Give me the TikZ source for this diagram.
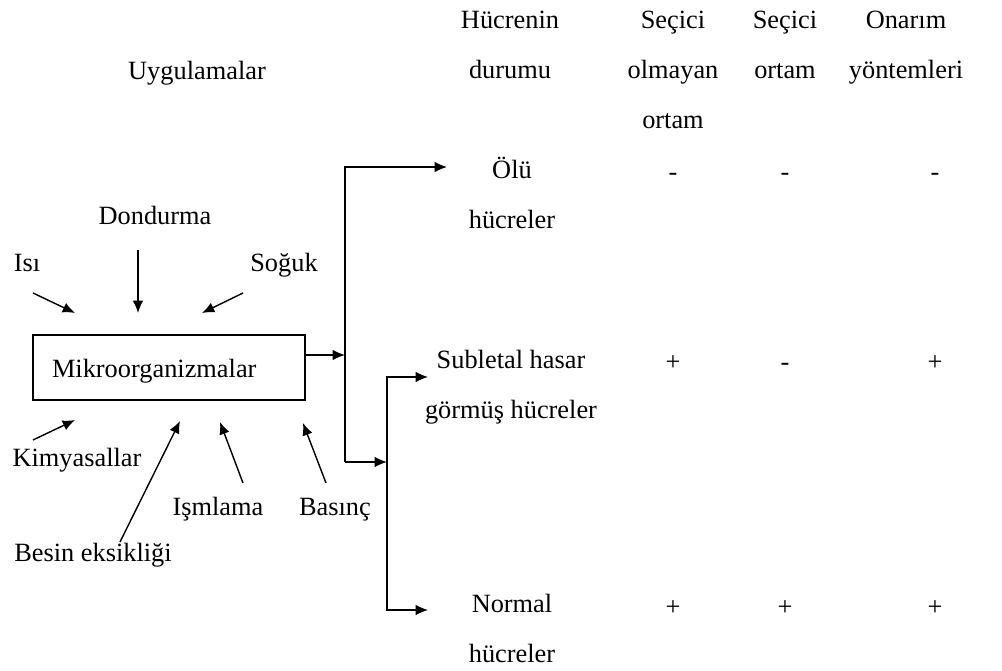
\documentclass[tikz,border=0pt]{standalone}
\usepackage{fontspec}
\setmainfont{Liberation Serif}
\usetikzlibrary{arrows.meta}

\begin{document}
\begin{tikzpicture}
            [->, >={Latex[length=7pt,width=6pt]}, x=0.02cm, y=-0.02cm, line width=0.8pt,
             every node/.style={font=\fontsize{15}{28.5}\selectfont, inner sep=1pt, align=center,
               execute at begin node=\strut, execute at end node=\strut},
             sign/.style={font=\fontsize{15}{18}\selectfont}]
            \useasboundingbox (0,0) rectangle (1002,671);

            % headings
            \node (uyg) at (197,69) {Uygulamalar};
            \node (durum) at (510,52.5) {Hücrenin\\durumu};
            \node (secolm) at (673,77.5) {Seçici\\olmayan\\ortam};
            \node (secort) at (785,52.5) {Seçici\\ortam};
            \node (onarim) at (906,52.5) {Onarım\\yöntemleri};

            % cell states
            \node (olu) at (512,200) {Ölü\\hücreler};
            \node (subl) at (511,392) {Subletal hasar\\görmüş hücreler};
            \node (norm) at (512,636) {Normal\\hücreler};

            \node[sign] (s11) at (673,174) {-};
            \node[sign] (s12) at (785,174) {-};
            \node[sign] (s13) at (935,174) {-};
            \node[sign] (s21) at (673,364) {+};
            \node[sign] (s22) at (785,364) {-};
            \node[sign] (s23) at (935,364) {+};
            \node[sign] (s31) at (673,609) {+};
            \node[sign] (s32) at (785,609) {+};
            \node[sign] (s33) at (935,609) {+};

            % treatments
            \node[draw, minimum height=1.3cm, text width=4.68cm, inner xsep=0.38cm, align=left] (mikro) at (169,367.5) {Mikroorganizmalar};
            \node (dond) at (155,214) {Dondurma};
            \node (isi) at (27,261) {Isı};
            \node (soguk) at (284,261) {Soğuk};
            \node (kimya) at (77,456) {Kimyasallar};
            \node (isim) at (218,505) {Işmlama};
            \node (basinc) at (335,505) {Basınç};
            \node (besin) at (93,551) {Besin eksikliği};

            \coordinate (dondA) at (138,250);
            \coordinate (dondB) at (138,313);
            \coordinate (isiA) at (33,293);
            \coordinate (isiB) at (75,313);
            \coordinate (sogA) at (243,293);
            \coordinate (sogB) at (202,313);
            \coordinate (kimA) at (33,440);
            \coordinate (kimB) at (75,420);
            \coordinate (besA) at (120,542);
            \coordinate (besB) at (180,421);
            \coordinate (isimA) at (243,483);
            \coordinate (isimB) at (220,422);
            \coordinate (basA) at (326,483);
            \coordinate (basB) at (303,423);

            \draw (dondA) -- (dondB);
            \draw (isiA) -- (isiB);
            \draw (sogA) -- (sogB);
            \draw (kimA) -- (kimB);
            \draw (besA) -- (besB);
            \draw (isimA) -- (isimB);
            \draw (basA) -- (basB);

            % branching
            \coordinate (j1) at (345,355);
            \coordinate (j2) at (345,462);
            \coordinate (j3) at (387,462);
            \coordinate (t1) at (447,167);
            \coordinate (t2) at (428,377);
            \coordinate (t3) at (428,610);

            \draw (mikro.east |- j1) -- (j1);
            \draw (j2) |- (t1);
            \draw (j2) -- (j3);
            \draw [<->] (t2) -| (j3) |- (t3);
        \end{tikzpicture}
\end{document}
